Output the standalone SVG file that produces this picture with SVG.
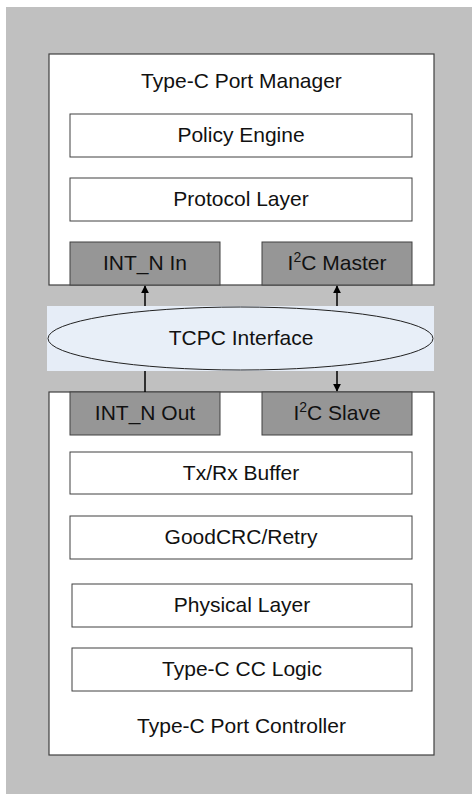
<svg xmlns="http://www.w3.org/2000/svg" width="472" height="794" viewBox="0 0 472 794">
<style>
.bg{fill:#c0c0c0}
.outer{fill:#ffffff;stroke:#404040;stroke-width:1.2}
.box{fill:#ffffff;stroke:#404040;stroke-width:1}
.dark{fill:#969696;stroke:#404040;stroke-width:1}
.t{font-family:"Liberation Sans",Arial,sans-serif;font-size:21px;fill:#111;text-anchor:middle}
.conn{stroke:#000;stroke-width:1.5;fill:none}
</style>
<defs>
<marker id="ah" viewBox="0 0 10 10" refX="9" refY="5" markerWidth="8" markerHeight="8" markerUnits="userSpaceOnUse" orient="auto">
<path d="M0,0 L10,5 L0,10 z" fill="#000"/>
</marker>
</defs>
<rect class="bg" x="6" y="7" width="466" height="787"/>
<g id="port-manager">
<rect class="outer" x="49" y="54" width="385" height="231"/>
<text class="t" x="241.5" y="88">Type-C Port Manager</text>
</g>
<g id="policy-engine">
<rect class="box" x="70" y="114" width="342" height="43"/>
<text class="t" x="241" y="142">Policy Engine</text>
</g>
<g id="protocol-layer">
<rect class="box" x="70" y="178" width="342" height="43"/>
<text class="t" x="241" y="206">Protocol Layer</text>
</g>
<g id="int-n-in">
<rect class="dark" x="70" y="242" width="150" height="43"/>
<text class="t" x="145" y="270">INT_N In</text>
</g>
<g id="i2c-master">
<rect class="dark" x="262" y="242" width="150" height="43"/>
<text class="t" x="337" y="270">I<tspan font-size="14" dy="-8">2</tspan><tspan dy="8">C Master</tspan></text>
</g>
<g id="tcpc-interface">
<rect x="47" y="306" width="387" height="65" fill="#e6edf7"/>
<ellipse cx="240.5" cy="338.5" rx="192.5" ry="31.5" fill="#e8eff8" stroke="#222" stroke-width="1"/>
<text class="t" x="241" y="345">TCPC Interface</text>
</g>
<g id="port-controller">
<rect class="outer" x="49" y="392" width="385" height="363"/>
<text class="t" x="241.5" y="733">Type-C Port Controller</text>
</g>
<g id="int-n-out">
<rect class="dark" x="70" y="392" width="150" height="43"/>
<text class="t" x="145" y="420">INT_N Out</text>
</g>
<g id="i2c-slave">
<rect class="dark" x="262" y="392" width="150" height="43"/>
<text class="t" x="337" y="420">I<tspan font-size="14" dy="-8">2</tspan><tspan dy="8">C Slave</tspan></text>
</g>
<g id="txrx-buffer">
<rect class="box" x="70" y="452" width="342" height="42"/>
<text class="t" x="241" y="480">Tx/Rx Buffer</text>
</g>
<g id="goodcrc-retry">
<rect class="box" x="70" y="516" width="342" height="43"/>
<text class="t" x="241" y="544">GoodCRC/Retry</text>
</g>
<g id="physical-layer">
<rect class="box" x="72" y="584" width="340" height="43"/>
<text class="t" x="242" y="612">Physical Layer</text>
</g>
<g id="cc-logic">
<rect class="box" x="72" y="648" width="340" height="43"/>
<text class="t" x="242" y="676">Type-C CC Logic</text>
</g>
<g id="connectors">
<line class="conn" x1="145" y1="306" x2="145" y2="286" marker-end="url(#ah)"/>
<line class="conn" x1="337" y1="306" x2="337" y2="286" marker-end="url(#ah)"/>
<line class="conn" x1="145" y1="371" x2="145" y2="392"/>
<line class="conn" x1="337" y1="371" x2="337" y2="391" marker-end="url(#ah)"/>
</g>
</svg>
